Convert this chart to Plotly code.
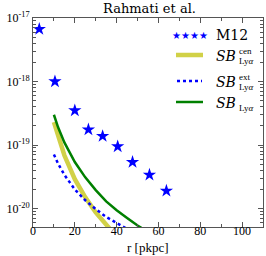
import plotly.graph_objects as go

# M12 data points
m12_r = [3, 10.5, 20, 26.5, 33.3, 40.5, 47.6, 55.7, 63.8]
m12_sb = [6.7e-18, 1.0e-18, 3.5e-19, 1.75e-19, 1.38e-19, 9.5e-20, 5.4e-20, 3.4e-20, 1.9e-20]

# SB_Lya^cen
cen_r = [10, 12, 15, 20, 25, 30, 35, 38]
cen_sb = [2.3e-19, 1.35e-19, 6.9e-20, 2.9e-20, 1.5e-20, 8.7e-21, 5.5e-21, 4.3e-21]

# SB_Lya^ext
ext_r = [10, 12, 15, 20, 25, 30, 35, 40, 45, 48]
ext_sb = [7.1e-20, 5.1e-20, 3.4e-20, 2.0e-20, 1.35e-20, 9.8e-21, 7.4e-21, 5.9e-21, 4.7e-21, 4.2e-21]

# SB_Lya total
tot_r = [10, 12, 15, 20, 25, 30, 35, 40, 45, 50, 55]
tot_sb = [3.0e-19, 1.9e-19, 1.1e-19, 5.4e-20, 3.1e-20, 1.95e-20, 1.3e-20, 9.4e-21, 7.1e-21, 5.4e-21, 4.3e-21]

x_ticks = [0, 20, 40, 60, 80, 100]
y_ticks = [1e-20, 1e-19, 1e-18, 1e-17]
y_ticktext = ["10<sup>-20</sup>", "10<sup>-19</sup>", "10<sup>-18</sup>", "10<sup>-17</sup>"]

SERIF = "DejaVu Serif"
TICKF = "Liberation Serif"
AX = "#555555"
YEL = "rgba(191,191,0,0.72)"

fig = go.Figure()
fig.add_trace(go.Scatter(x=cen_r, y=cen_sb, mode="lines",
                         line=dict(color=YEL, width=4.5), showlegend=False))
fig.add_trace(go.Scatter(x=ext_r, y=ext_sb, mode="lines",
                         line=dict(color="#0000ff", width=2.5, dash="dot"), showlegend=False))
fig.add_trace(go.Scatter(x=tot_r, y=tot_sb, mode="lines",
                         line=dict(color="#008000", width=2.5), showlegend=False))
fig.add_trace(go.Scatter(x=m12_r, y=m12_sb, mode="markers",
                         marker=dict(symbol="star", color="#0000ff", size=10, line=dict(width=0)),
                         showlegend=False))

minor_y = []
for d in [-21, -20, -19, -18]:
    for m in range(2, 10):
        minor_y.append(m * 10 ** d)

# ---- manual legend (paper coords relative to plot area) ----
L = dict(left=33, right=263, top=18, bottom=227)
def px(X):
    return (X - L["left"]) / (L["right"] - L["left"])
def py(Y):
    return (L["bottom"] - Y) / (L["bottom"] - L["top"])

shapes = [
    dict(type="line", xref="paper", yref="paper", x0=px(176), x1=px(203), y0=py(55), y1=py(55),
         line=dict(color=YEL, width=4.5)),
    dict(type="line", xref="paper", yref="paper", x0=px(177), x1=px(202), y0=py(81), y1=py(81),
         line=dict(color="#0000ff", width=2.5, dash="dot")),
    dict(type="line", xref="paper", yref="paper", x0=px(176), x1=px(203), y0=py(102), y1=py(102),
         line=dict(color="#008000", width=2.5)),
]
ann = [
    dict(text="★★★★", x=px(189.5), y=py(35), xref="paper", yref="paper", showarrow=False,
         xanchor="center", yanchor="middle", font=dict(family="DejaVu Sans", size=10, color="#0000ff")),
    dict(text="M12", x=px(214), y=py(35), xref="paper", yref="paper", showarrow=False,
         xanchor="left", yanchor="middle", font=dict(family=SERIF, size=14, color="black")),
    dict(text="r [pkpc]", x=0.5, y=py(247), xref="paper", yref="paper", showarrow=False,
         xanchor="center", yanchor="middle", font=dict(family=TICKF, size=13, color="black")),
]
for ycen, sup, sub in [(56, "cen", "Lyα"), (82, "ext", "Lyα"), (103, None, "Lyα")]:
    ann.append(dict(text="<i>SB</i>", x=px(214), y=py(ycen), xref="paper", yref="paper",
                    showarrow=False, xanchor="left", yanchor="middle",
                    font=dict(family=SERIF, size=14, color="black")))
    if sup:
        ann.append(dict(text=sup, x=px(237), y=py(ycen - 5), xref="paper", yref="paper",
                        showarrow=False, xanchor="left", yanchor="middle",
                        font=dict(family=TICKF, size=9, color="black")))
    ann.append(dict(text="Ly<i>α</i>", x=px(237), y=py(ycen + 5), xref="paper", yref="paper",
                    showarrow=False, xanchor="left", yanchor="middle",
                    font=dict(family=TICKF, size=9, color="black")))

fig.update_layout(
    width=266, height=256,
    margin=dict(l=33, r=3, t=18, b=29),
    paper_bgcolor="white", plot_bgcolor="white",
    font=dict(family=TICKF, size=11, color="black"),
    title=dict(text="Rahmati et al.", x=149.5 / 266, xanchor="center", y=1 - 8 / 256,
               yanchor="middle", font=dict(family=SERIF, size=13)),
    showlegend=False,
    shapes=shapes,
    annotations=ann,
)
fig.update_xaxes(range=[0, 110], tickvals=x_ticks, ticks="inside", ticklen=5,
                 showline=True, linecolor=AX, linewidth=1, mirror="ticks",
                 showgrid=False, zeroline=False, tickcolor=AX, automargin=False,
                 ticklabelstandoff=-7,
                 minor=dict(tickvals=[10, 30, 50, 70, 90, 110], ticks="inside", ticklen=3,
                            tickcolor=AX),
                 tickfont=dict(family=TICKF, size=12))
fig.update_yaxes(type="log", range=[-20.29, -17], tickvals=y_ticks, ticktext=y_ticktext,
                 ticks="inside", ticklen=5, tickcolor=AX, automargin=False,
                 showline=True, linecolor=AX, linewidth=1, mirror="ticks",
                 showgrid=False, zeroline=False,
                 minor=dict(tickvals=minor_y, ticks="inside", ticklen=3, tickcolor=AX),
                 tickfont=dict(family=TICKF, size=12))

fig.write_html("out.html", config={"displayModeBar": False},
               post_script="document.body.style.margin='0';document.body.style.padding='0';")
